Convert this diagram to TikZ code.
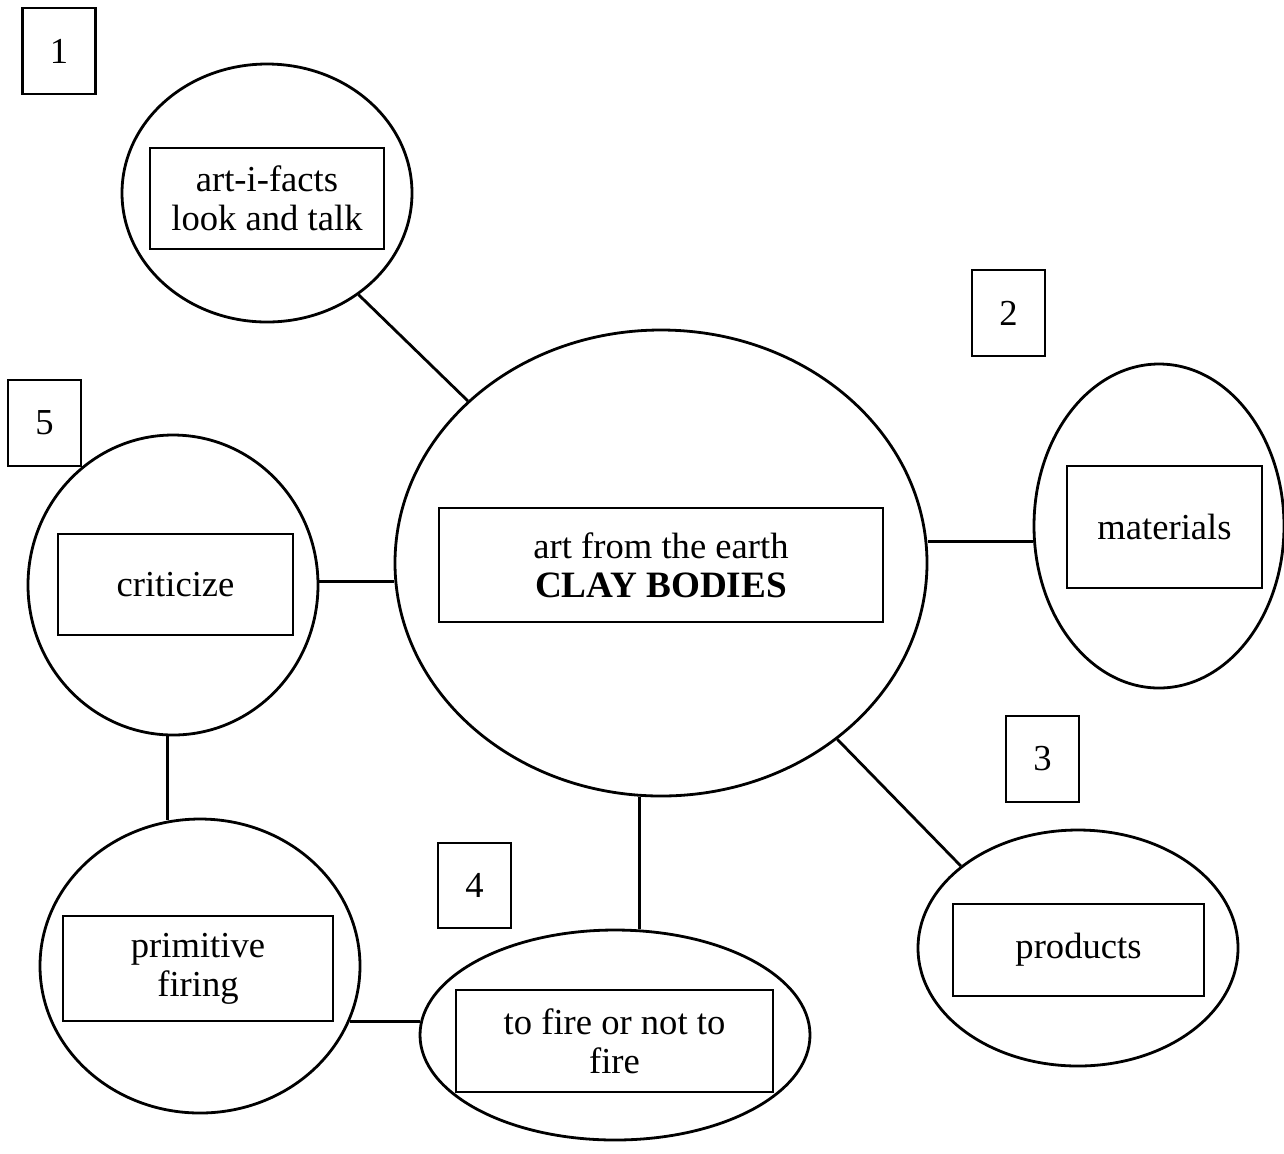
\documentclass[tikz,border=0pt]{standalone}
\usepackage{fontspec}
\setmainfont{Liberation Serif}
\usetikzlibrary{shapes.geometric}
\begin{document}
\begin{tikzpicture}[x=0.5pt,y=-0.5pt,
  bubble/.style={draw,ellipse,line width=1.4pt,inner sep=0pt},
  tbox/.style={draw,rectangle,line width=1.4pt,inner sep=0pt,align=center,
    font=\fontsize{18.3}{19.5}\selectfont},
  numbox/.style={draw,rectangle,line width=1.4pt,inner sep=0pt,
    minimum width=36.5pt,minimum height=43pt,font=\fontsize{18.3}{19.5}\selectfont},
  link/.style={line width=1.4pt}]
\useasboundingbox[fill=white] (0,0) rectangle (1284,1153);

% bubbles
\node[bubble,minimum width=145pt,minimum height=129pt] (E1) at (267,193) {};
\node[bubble,minimum width=266pt,minimum height=233pt] (E0) at (661,563) {};
\node[bubble,minimum width=125pt,minimum height=162pt] (Em) at (1159,526) {};
\node[bubble,minimum width=145pt,minimum height=150pt] (Ec) at (173,585) {};
\node[bubble,minimum width=160pt,minimum height=147pt] (Ep) at (200,966) {};
\node[bubble,minimum width=195pt,minimum height=105pt] (Ef) at (615,1035) {};
\node[bubble,minimum width=160pt,minimum height=118pt] (Eq) at (1078,948) {};

% text boxes
\node[tbox,minimum width=117pt,minimum height=50.5pt] (B1) at (267,198.5) {art-i-facts\\look and talk};
\node[tbox,minimum width=222pt,minimum height=57pt] (B0) at (661,565) {art from the earth\\{\fontsize{18.6}{19.5}\selectfont\bfseries CLAY BODIES}};
\node[tbox,minimum width=97.5pt,minimum height=61pt] (Bm) at (1164.5,527) {materials};
\node[tbox,minimum width=117.5pt,minimum height=50.5pt] (Bc) at (175.5,584.5) {criticize};
\node[tbox,minimum width=135pt,minimum height=52.5pt] (Bp) at (198,968.5) {primitive\\firing};
\node[tbox,minimum width=158.5pt,minimum height=51pt] (Bf) at (614.5,1041) {to fire or not to\\fire};
\node[tbox,minimum width=125.5pt,minimum height=46pt] (Bq) at (1078.5,950) {products};

% number boxes
\node[numbox] (N1) at (59,51) {1};
\node[numbox] (N2) at (1008.5,313) {2};
\node[numbox] (N3) at (1042.5,759) {3};
\node[numbox,minimum height=42.5pt] (N4) at (474.5,885.5) {4};
\node[numbox] (N5) at (44.5,423) {5};

% connectors
\draw[link] (E1.-48.2) -- (E0.140.1);
\draw[link] (E0.4.97 |- Em.-173.58) -- (Em.-173.58);
\draw[link] (E0.184.1) -- (Ec.1.19 |- E0.184.1);
\draw[link] (Ec.-92.29) -- (Ec.-92.29 |- Ep.102.9);
\draw[link] (Ep.-20.74 |- Ef.176.16) -- (Ef.176.16);
\draw[link] (Ef.77.56 |- E0.-95.66) -- (Ef.77.56);
\draw[link] (E0.-45.98) -- (Eq.145.65);
\end{tikzpicture}
\end{document}
